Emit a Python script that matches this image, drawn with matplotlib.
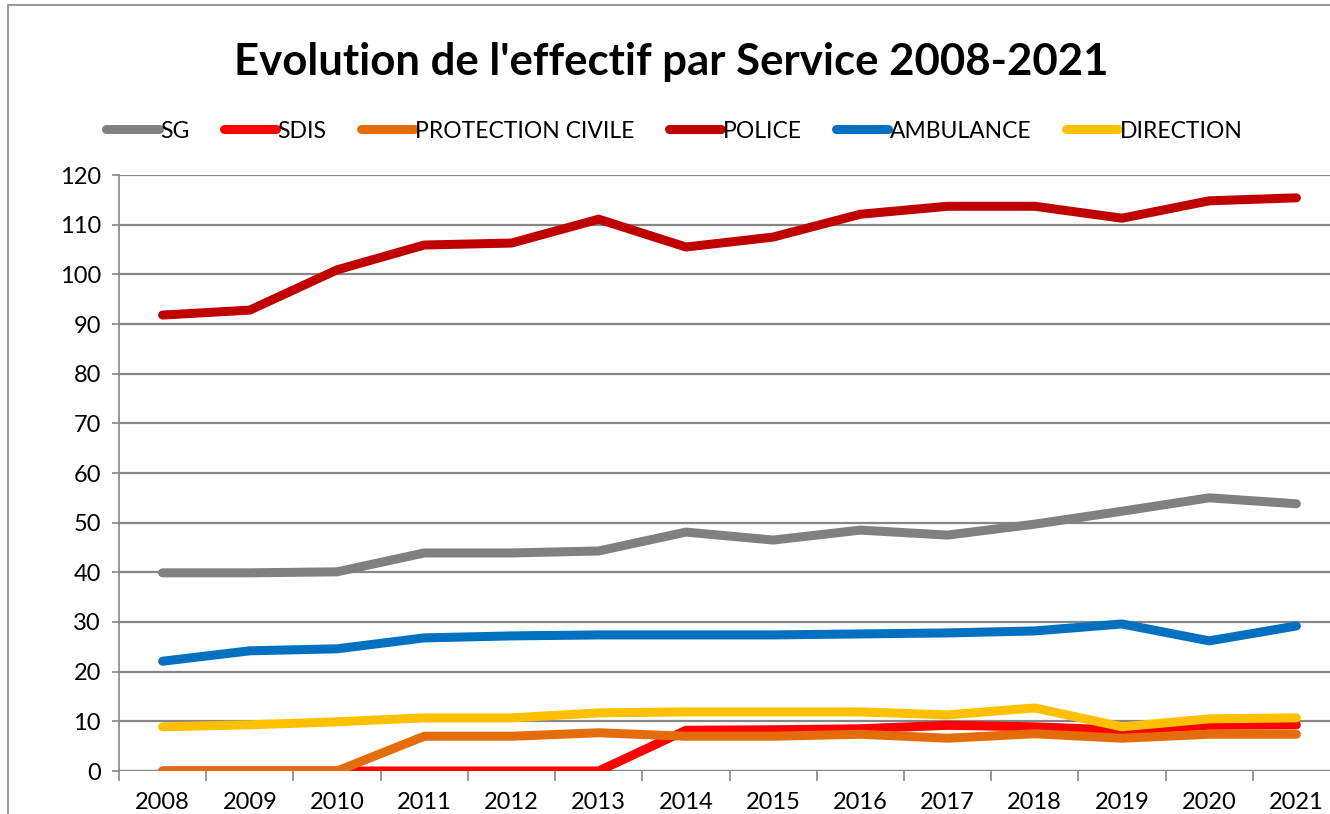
import matplotlib
matplotlib.use('Agg')
import matplotlib.pyplot as plt
from matplotlib.patches import Rectangle
import numpy as np

plt.rcParams['font.family'] = ['Lato', 'DejaVu Sans']

# data
years = [str(y) for y in range(2008, 2022)]
sg = [39.9, 39.9, 40.1, 43.9, 43.9, 44.3, 48.1, 46.5, 48.5, 47.5, 49.7, 52.3, 55.0, 53.8]
sdis = [0, 0, 0, 0, 0, 0, 8.2, 8.3, 8.5, 9.2, 8.9, 8.2, 9.2, 9.3]
protection_civile = [0, 0, 0, 7.0, 7.0, 7.7, 7.0, 7.0, 7.4, 6.6, 7.5, 6.6, 7.4, 7.4]
police = [91.8, 92.8, 100.9, 105.9, 106.3, 111.1, 105.5, 107.5, 112.1, 113.7, 113.7, 111.3, 114.8, 115.4]
ambulance = [22.1, 24.2, 24.6, 26.8, 27.2, 27.4, 27.4, 27.4, 27.6, 27.8, 28.2, 29.6, 26.2, 29.2]
direction = [8.9, 9.3, 9.9, 10.7, 10.7, 11.7, 11.9, 11.9, 11.9, 11.3, 12.7, 8.9, 10.5, 10.7]

series = [
    ('SG', sg, '#808080'),
    ('SDIS', sdis, '#FF0000'),
    ('PROTECTION CIVILE', protection_civile, '#E46C0A'),
    ('POLICE', police, '#C00000'),
    ('AMBULANCE', ambulance, '#0070C0'),
    ('DIRECTION', direction, '#FFC000'),
]

fig = plt.figure(figsize=(13.3, 8.14), dpi=100)
fig.patches.append(Rectangle((8 / 1330, -0.1), 1.2, 1.1 - 5 / 814, transform=fig.transFigure,
                             fill=False, edgecolor='#868686', linewidth=1.2))

ax = fig.add_axes([119 / 1330, 1 - 771 / 814, 1221 / 1330, (771 - 175) / 814])
x = np.arange(len(years))
for name, vals, col in series:
    ax.plot(x, vals, color=col, linewidth=6.5, solid_capstyle='round', label=name)

ax.set_xlim(-0.5, len(years) - 0.5)
ax.set_ylim(0, 120)
ax.set_yticks(range(0, 121, 10))
ax.yaxis.grid(True, color='#868686', linewidth=1.6)
ax.set_axisbelow(True)
for s in ['top', 'right', 'bottom']:
    ax.spines[s].set_visible(False)
ax.spines['left'].set_color('#868686')
ax.spines['left'].set_linewidth(1.2)
ax.axhline(0, color='#868686', linewidth=1.6, zorder=0.5)

ax.set_xticks(x)
ax.set_xticklabels(years)
ax.set_xticks(np.arange(-0.5, len(years)), minor=True)
ax.tick_params(axis='x', which='major', length=0, pad=15, labelsize=17)
ax.tick_params(axis='x', which='minor', length=7, width=1.2, color='#868686', direction='out')
ax.tick_params(axis='y', length=5, width=1.2, color='#868686', labelsize=17, pad=8)

fig.text(0.505, 1 - 62 / 814, "Evolution de l'effectif par Service 2008-2021",
         ha='center', va='center', fontsize=31.5, fontweight='bold')

handles, labels = ax.get_legend_handles_labels()
fig.legend(handles, labels, loc='center', bbox_to_anchor=(0.507, 1 - 131 / 814), ncol=6,
           frameon=False, fontsize=16.5, handlelength=2.3, handletextpad=0.05,
           columnspacing=1.5)

fig.savefig('out.png', dpi=100)
